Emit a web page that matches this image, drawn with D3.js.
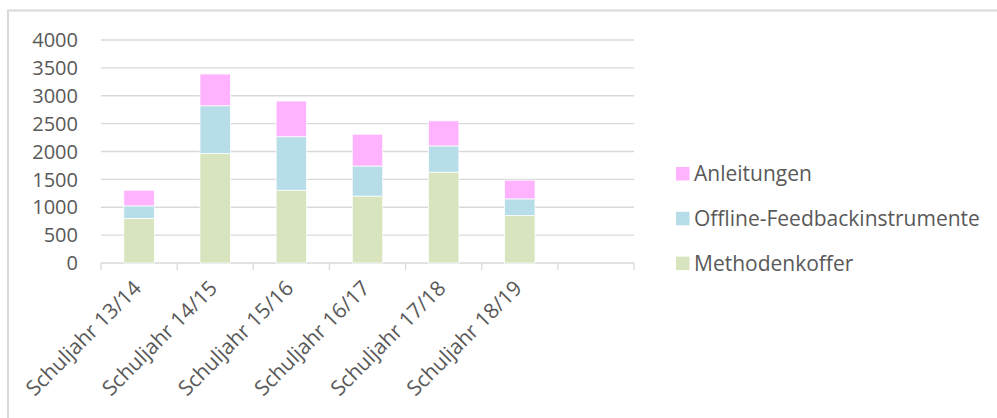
<!DOCTYPE html>
<html>
<head>
<meta charset="utf-8">
<script src="https://cdn.jsdelivr.net/npm/d3@7"></script>
<style>
  body { margin: 0; background: #fff; }
  svg { display: block; font-family: "Open Sans", Lato, sans-serif; }
  .grid-line { stroke: #d9d9d9; stroke-width: 1.3; }
  .lbl { fill: #595959; font-size: 21px; }
  .ylbl { fill: #595959; font-size: 20px; }
</style>
</head>
<body>
<div id="wrapper"></div>
<script>
// 1. Data
const categories = ["Schuljahr 13/14", "Schuljahr 14/15", "Schuljahr 15/16",
                    "Schuljahr 16/17", "Schuljahr 17/18", "Schuljahr 18/19", ""]
const methodenkoffer = [800, 1965, 1305, 1200, 1630, 850]
const offline = [225, 855, 960, 540, 470, 300]
const anleitungen = [280, 570, 640, 570, 450, 335]
const yTicks = [0, 500, 1000, 1500, 2000, 2500, 3000, 3500, 4000]

const seriesNames = ["Methodenkoffer", "Offline-Feedbackinstrumente", "Anleitungen"]
const seriesColors = ["#d7e4bd", "#b7dde8", "#ffb3ff"]

// 2. Dimensions
const dimensions = {
  width: 997,
  height: 418,
  plot: { left: 101, right: 634, top: 40, bottom: 263 },
}

// 3. Canvas
const wrapper = d3.select("#wrapper")
  .append("svg")
    .attr("width", dimensions.width)
    .attr("height", dimensions.height)

// chart frame (only top and left edge are visible in the crop)
wrapper.append("path")
  .attr("d", `M8,${dimensions.height} V10.5 H${dimensions.width}`)
  .attr("fill", "none")
  .attr("stroke", "#d9d9d9")
  .attr("stroke-width", 2)

// 4. Scales
const xScale = d3.scaleBand()
  .domain(categories)
  .range([dimensions.plot.left, dimensions.plot.right])
  .paddingInner(0)

const barWidth = xScale.bandwidth() * 0.4

const yScale = d3.scaleLinear()
  .domain([0, 4000])
  .range([dimensions.plot.bottom, dimensions.plot.top])

// 5. Peripherals
const axis = wrapper.append("g")
yTicks.forEach(t => {
  axis.append("line")
    .attr("class", "grid-line")
    .attr("x1", dimensions.plot.left)
    .attr("x2", dimensions.plot.right)
    .attr("y1", yScale(t))
    .attr("y2", yScale(t))
  axis.append("text")
    .attr("class", "ylbl")
    .attr("x", 78)
    .attr("y", yScale(t))
    .attr("dy", "0.36em")
    .style("text-anchor", "end")
    .text(t)
})

// category ticks at band boundaries
const tickPositions = categories.map(c => xScale(c)).concat([dimensions.plot.right])
tickPositions.forEach(x => {
  axis.append("line")
    .attr("class", "grid-line")
    .attr("x1", x).attr("x2", x)
    .attr("y1", dimensions.plot.bottom)
    .attr("y2", dimensions.plot.bottom + 7)
})

categories.forEach(c => {
  if (!c) return
  const cx = xScale(c) + xScale.bandwidth() / 2
  axis.append("text")
    .attr("class", "lbl")
    .attr("transform", `translate(${cx - 7}, ${dimensions.plot.bottom + 16}) rotate(-45)`)
    .style("text-anchor", "end")
    .attr("dy", "0.7em")
    .text(c)
})

// 6. Bars
const table = methodenkoffer.map((m, i) => ({
  cat: categories[i],
  Methodenkoffer: m,
  "Offline-Feedbackinstrumente": offline[i],
  Anleitungen: anleitungen[i],
}))
const stacked = d3.stack().keys(seriesNames)(table)

const bars = wrapper.append("g")
stacked.forEach((layer, li) => {
  bars.selectAll(null)
    .data(layer)
    .join("rect")
      .attr("x", d => xScale(d.data.cat) + (xScale.bandwidth() - barWidth) / 2)
      .attr("y", d => yScale(d[1]))
      .attr("width", barWidth)
      .attr("height", d => yScale(d[0]) - yScale(d[1]))
      .attr("fill", seriesColors[li])
      .attr("stroke", "#fff")
      .attr("stroke-width", 0.75)
})

// 7. Legend (top to bottom: reverse order)
const legend = wrapper.append("g")
const legendOrder = [2, 1, 0]
legendOrder.forEach((si, row) => {
  const y = 173.5 + row * 44.8
  legend.append("rect")
    .attr("x", 676)
    .attr("y", y - 6.5)
    .attr("width", 13.5)
    .attr("height", 13.5)
    .attr("fill", seriesColors[si])
  legend.append("text")
    .attr("class", "lbl")
    .attr("x", 694)
    .attr("y", y)
    .attr("dy", "0.36em")
    .text(seriesNames[si])
})
</script>
</body>
</html>
